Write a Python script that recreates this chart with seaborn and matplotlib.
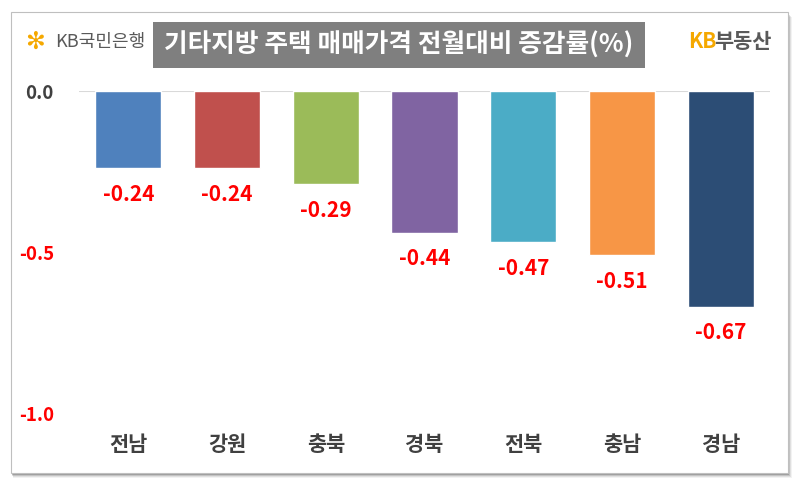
import matplotlib
matplotlib.use("Agg")
import matplotlib.pyplot as plt
import matplotlib.patches as mpatches
import seaborn as sns
import pandas as pd

regions = ["전남", "강원", "충북", "경북", "전북", "충남", "경남"]
changes = [-0.24, -0.24, -0.29, -0.44, -0.47, -0.51, -0.67]
bar_colors = ["#4F81BD", "#C0504D", "#9BBB59", "#8064A2", "#4BACC6", "#F79646", "#2C4D75"]
ytick_values = [0.0, -0.5, -1.0]
ytick_labels = ["0.0", "-0.5", "-1.0"]
title = "기타지방 주택 매매가격 전월대비 증감률(%)"

sns.set_theme(style="white")
plt.rcParams["font.family"] = ["Noto Sans CJK KR", "DejaVu Sans"]

fig = plt.figure(figsize=(8.0, 4.86), dpi=100)
fig.patch.set_facecolor("white")

# frame with shadow
for i, a in enumerate([0.05, 0.08, 0.12, 0.18]):
    off = (4 - i)
    sh = mpatches.Rectangle(((11 + off * 0.6) / 800, 1 - (474 + off) / 486),
                            (777 + off * 0.4) / 800, (461) / 486,
                            transform=fig.transFigure, facecolor="black",
                            edgecolor="none", alpha=a, zorder=0)
    fig.patches.append(sh)
frame = mpatches.Rectangle((11 / 800, 1 - 473 / 486), 777 / 800, 461 / 486,
                           transform=fig.transFigure, facecolor="white",
                           edgecolor="#BFBFBF", linewidth=0.8, zorder=1)
fig.patches.append(frame)

ax = fig.add_axes([79 / 800, 1 - 413 / 486, 691 / 800, 322 / 486])
ax.set_facecolor("none")
ax.set_zorder(2)

df = pd.DataFrame({"region": regions, "change": changes})
sns.barplot(data=df, x="region", y="change", hue="region", palette=bar_colors,
            order=regions, hue_order=regions, width=0.67, legend=False,
            saturation=1, ax=ax, zorder=3)

ax.set_ylim(-1.0, 0.0)
ax.set_xlim(-0.5, len(regions) - 0.5)
ax.axhline(0, color="#D9D9D9", linewidth=1.5, zorder=2)
for s in ax.spines.values():
    s.set_visible(False)
ax.set_xlabel("")
ax.set_ylabel("")

ax.set_yticks(ytick_values)
ax.set_yticklabels(ytick_labels, fontsize=13.5, fontweight="bold")
for lbl, v in zip(ax.get_yticklabels(), ytick_values):
    lbl.set_color("#404040" if v == 0 else "#FF0000")
ax.tick_params(axis="y", length=0, pad=18)
ax.tick_params(axis="x", length=0, pad=15)
ax.set_xticks(range(len(regions)))
ax.set_xticklabels(regions, fontsize=15, fontweight="bold", color="#404040")

for i, v in enumerate(changes):
    ax.annotate(f"{v:.2f}", xy=(i, v), xytext=(0, -26), textcoords="offset pixels",
                ha="center", va="center", color="#FF0000", fontsize=15,
                fontweight="bold", annotation_clip=False)

# title box
tb = mpatches.Rectangle((153 / 800, 1 - 68 / 486), 492 / 800, 46 / 486,
                        transform=fig.transFigure, facecolor="#7F7F7F",
                        edgecolor="none", zorder=3)
fig.patches.append(tb)
fig.text(399 / 800, 1 - 45 / 486, title, ha="center", va="center",
         color="white", fontsize=18.5, fontweight="bold", zorder=4)

# logos
fig.text(25 / 800, 1 - 42 / 486, "✻", ha="left", va="center",
         color="#F5A800", fontsize=17, family=["DejaVu Sans"], zorder=4)
fig.text(55 / 800, 1 - 42 / 486, "KB국민은행", ha="left", va="center",
         color="#595959", fontsize=13, zorder=4)
fig.text(688 / 800, 1 - 41 / 486, "KB", ha="left", va="center",
         color="#F5A800", fontsize=15, fontweight="bold", zorder=4)
fig.text(714 / 800, 1 - 41 / 486, "부동산", ha="left", va="center",
         color="#595959", fontsize=15, fontweight="bold", zorder=4)

fig.savefig("out.png", dpi=100, facecolor="white")
